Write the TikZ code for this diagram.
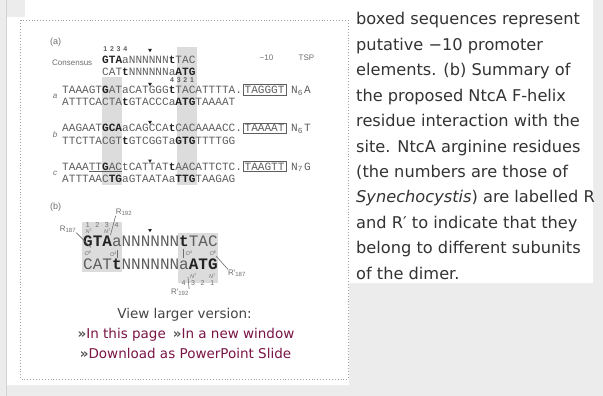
\documentclass[tikz,border=0pt]{standalone}
\usepackage{fontspec}
\setmainfont{DejaVu Sans}
\newfontfamily\uifont{DejaVu Sans}
\newfontfamily\seqfont{Liberation Mono}
\newfontfamily\labfont{Liberation Sans}
\definecolor{pagebg}{HTML}{ECECEC}
\definecolor{edgec}{HTML}{D2D2D2}
\definecolor{dotc}{HTML}{A0A0A0}
\definecolor{bodytxt}{HTML}{333333}
\definecolor{linktxt}{HTML}{7A1446}
\definecolor{chev}{HTML}{555555}
\definecolor{seqc}{HTML}{5E5E5E}
\definecolor{seqb}{HTML}{222222}
\definecolor{colshade}{HTML}{DCDCDC}
\definecolor{labc}{HTML}{6E6E6E}
\newcommand\bq[1]{{\bfseries\color{seqb}#1}}
\newcommand\chv{{\bfseries\color{chev}»}}
\tikzset{
 body/.style={anchor=base west, inner sep=0, font=\uifont\fontsize{16.2}{20}\selectfont, text=bodytxt},
 seq/.style={anchor=base west, inner sep=0, font=\seqfont\fontsize{11.1}{12}\selectfont, text=seqc},
 bigseq/.style={anchor=base west, inner sep=0, font=\seqfont\fontsize{16}{18}\selectfont, text=seqc},
 lab/.style={inner sep=0, font=\labfont\fontsize{8}{9}\selectfont, text=labc},
 tinylab/.style={inner sep=0, font=\labfont\fontsize{5.5}{6}\selectfont, text=labc},
 smalldig/.style={inner sep=0, font=\labfont\fontsize{7}{8}\selectfont, text=labc},
 digit/.style={inner sep=0, font=\labfont\bfseries\fontsize{7}{8}\selectfont, text=seqc},
 boxedseq/.style={seq, draw=seqc, line width=0.6pt, inner sep=1.3pt},
 bond/.style={draw=labc, line width=0.6pt},
 linkline/.style={anchor=base, inner sep=0, font=\uifont\fontsize{13.5}{16}\selectfont, text=linktxt},
}
\begin{document}
\begin{tikzpicture}[x=1pt,y=-1pt]
\useasboundingbox (0,0) rectangle (603,396);
% page
\fill[pagebg] (0,0) rectangle (603,396);
\fill[white] (7,17) -- (25,17) -- (25,0) -- (593,0) -- (593,283) -- (349,283) -- (349,385) -- (7,385) -- cycle;
\draw[edgec, line width=1pt] (6.5,0) -- (6.5,396);
\draw[dotc, line width=0.9pt, dash pattern=on 0.9pt off 2pt] (20.5,20.5) rectangle (348,379);

% ---------- right column text ----------
\node[body] (t1)  at (356,25)   {boxed sequences represent};
\node[body] (t2)  at (356,50.4) {putative −10 promoter};
\node[body] (t3)  at (356,75.8) {elements. (b) Summary of};
\node[body] (t4)  at (356,101.2){the proposed NtcA F-helix};
\node[body] (t5)  at (356,126.6){residue interaction with the};
\node[body] (t6)  at (356,152)  {site. NtcA arginine residues};
\node[body] (t7)  at (356,177.4){(the numbers are those of};
\node[body] (t8)  at (356,202.8){\textit{Synechocystis}) are labelled R};
\node[body] (t9)  at (356,228.2){and R′ to indicate that they};
\node[body] (t10) at (356,253.6){belong to different subunits};
\node[body] (t11) at (356,279)  {of the dimer.};

% ---------- figure (a) ----------
\fill[colshade] (102,77) rectangle (122,185);
\fill[colshade] (176.5,47) rectangle (196.5,185);

\node[lab, anchor=west, font=\labfont\fontsize{9}{10}\selectfont] (pa) at (50,42) {(a)};
\node[lab, anchor=west] (cons) at (52,62.5) {Consensus};
\foreach \d [count=\i] in {1,2,3,4} \node[digit] (up\i) at ({102+(\i-0.5)*6.67},49.5) {\d};
\foreach \d [count=\i] in {4,3,2,1} \node[digit] (dn\i) at ({168.7+(\i-0.5)*6.67},80.5) {\d};
\node[seq] (c1) at (102,63.5) {\bq{GTA}aNNNNNN\bq{t}TAC};
\node[seq] (c2) at (102,75.5) {CAT\bq{t}NNNNNNa\bq{ATG}};
\node[lab, anchor=base] (m10) at (266.5,61) {−10};
\node[lab, anchor=base] (tsp) at (306.5,61) {TSP};

\node[lab, font=\labfont\itshape\fontsize{8}{9}\selectfont] (la) at (55,96) {a};
\node[seq] (a1) at (62,93.5) {TAAAGT\bq{G}ATaCATGGG\bq{t}TACATTTTA.};
\node[seq] (a2) at (62,105.5) {ATTTCACTA\bq{t}GTACCCa\bq{ATG}TAAAAT};
\node[boxedseq] (ab) at (243,93.5) {TAGGGT};
\node[seq] (an) at (291,93.5) {N\textsubscript{6}};
\node[seq] (ae) at (304,93.5) {A};

\node[lab, font=\labfont\itshape\fontsize{8}{9}\selectfont] (lb) at (55,135) {b};
\node[seq] (b1) at (62,131.5) {AAGAAT\bq{GCA}aCAGCCA\bq{t}CACAAAACC.};
\node[seq] (b2) at (62,144.5) {TTCTTACGT\bq{t}GTCGGTa\bq{GTG}TTTTGG};
\node[boxedseq] (bb) at (243,131.5) {TAAAAT};
\node[seq] (bn) at (291,131.5) {N\textsubscript{6}};
\node[seq] (be) at (304,131.5) {T};

\node[lab, font=\labfont\itshape\fontsize{8}{9}\selectfont] (lc) at (55,173.5) {c};
\node[seq] (cc1) at (62,170) {TAAA\underline{TT\bq{G}AC}tCATTAT\bq{t}AACATTCTC.};
\node[seq] (cc2) at (62,182.5) {ATTTAAC\bq{TG}aGTAATAa\bq{TTG}TAAGAG};
\node[boxedseq] (cb) at (243,170) {TAAGTT};
\node[seq] (cn) at (291,170) {N\textsubscript{7}};
\node[seq] (ce) at (304,170) {G};

% cleavage markers
\foreach \y/\n in {49/k0,83/k1,121/k2,159.5/k3}{
  \fill[seqb] (148.2,\y) -- ++(3.6,0) -- ++(-1.8,3.4) -- cycle;
  \coordinate (\n) at (150,\y);
}

% ---------- figure (b) ----------
\node[lab, anchor=west, font=\labfont\fontsize{9}{10}\selectfont] (pb) at (50,207) {(b)};
\fill[colshade] (82,222) rectangle (122,272);
\fill[colshade] (178,233) rectangle (218,283);
\node[bigseq] (g1) at (83,246.6) {\bq{GTA}aNNNNNN\bq{t}TAC};
\node[bigseq] (g2) at (83,269.6) {CAT\bq{t}NNNNNNa\bq{ATG}};
\fill[seqb] (148.2,229) -- ++(3.6,0) -- ++(-1.8,3.4) -- cycle;

\foreach \d [count=\i] in {1,2,3,4} \node[smalldig] (bu\i) at ({83+(\i-0.5)*9.57},225) {\d};
\foreach \d [count=\i] in {4,3,2,1} \node[smalldig] (bd\i) at ({178.7+(\i-0.5)*9.57},283.5) {\d};
\node[tinylab] (n7a) at (89,231.5) {\textit{N}\textsuperscript{7}};
\node[tinylab] (n7b) at (107.5,231.5) {\textit{N}\textsuperscript{7}};
\node[tinylab] (o6a) at (88,253.5) {\textit{O}\textsuperscript{6}};
\node[tinylab] (o4a) at (113.5,254.5) {\textit{O}\textsuperscript{4}};
\node[tinylab] (o4b) at (189,253.5) {\textit{O}\textsuperscript{4}};
\node[tinylab] (o6b) at (213,253.5) {\textit{O}\textsuperscript{6}};
\node[tinylab] (n7c) at (193.5,276.5) {\textit{N}\textsuperscript{7}};
\node[tinylab] (n7d) at (212.5,276.5) {\textit{N}\textsuperscript{7}};

\node[lab] (r187) at (68,229) {R\textsubscript{187}};
\node[lab] (r192) at (124,212) {R\textsubscript{192}};
\node[lab] (rp187) at (237,273) {R′\textsubscript{187}};
\node[lab] (rp192) at (180,292.5) {R′\textsubscript{192}};

\coordinate (ga) at (91,247.5);
\coordinate (na) at (110.5,235);
\coordinate (aa) at (117.5,250);
\coordinate (ta) at (117.5,258);
\coordinate (tb) at (183.5,248.5);
\coordinate (ab2) at (183.5,258);
\coordinate (gb) at (216,256);
\coordinate (nb) at (188,277);

\draw[bond] (r187.south east) -- (ga);
\draw[bond] (r192.south west) -- (na);
\draw[bond] (aa) -- (ta);
\draw[bond] (tb) -- (ab2);
\draw[bond] (gb) -- (rp187.north west);
\draw[bond] (rp192.north east) -- (nb);

% ---------- links ----------
\node[linkline, text=chev!80!black] (vl) at (184.5,318) {View larger version:};
\node[linkline] (l1) at (186,338) {\chv In this page\hspace{7pt}\chv In a new window};
\node[linkline] (l2) at (185.5,358) {\chv Download as PowerPoint Slide};
\end{tikzpicture}
\end{document}
